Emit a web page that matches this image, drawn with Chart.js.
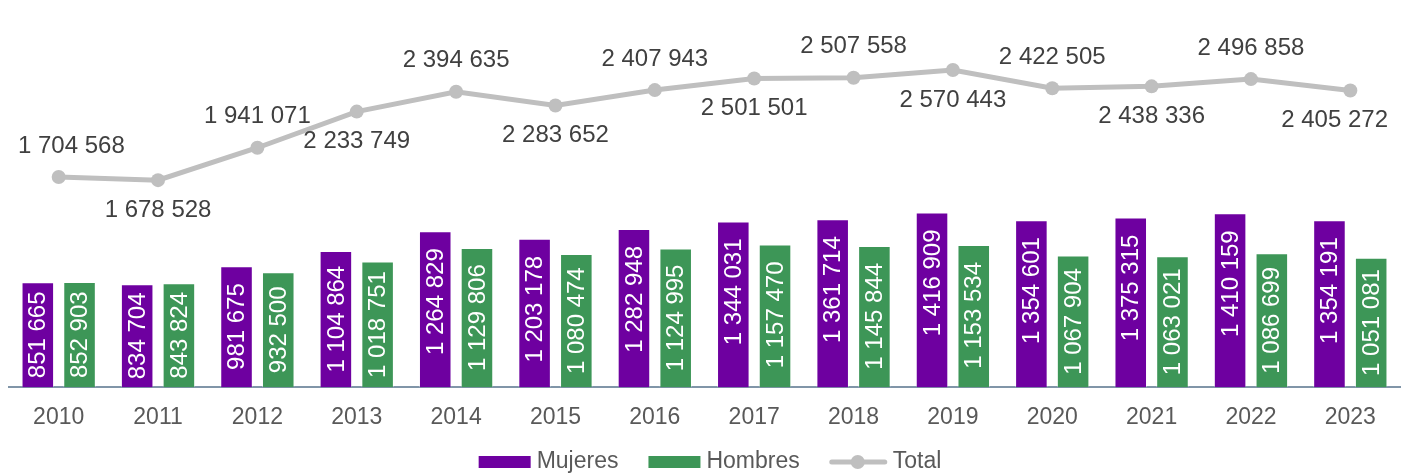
<!DOCTYPE html>
<html>
<head>
<meta charset="utf-8">
<script src="https://cdn.jsdelivr.net/npm/chart.js@4/dist/chart.umd.min.js"></script>
<style>
  html, body { margin: 0; padding: 0; background: #fff; }
  #wrap { width: 1408px; height: 474px; }
</style>
</head>
<body>
<div id="wrap"><canvas id="lineBarChart"></canvas></div>
<script>
var years = ["2010","2011","2012","2013","2014","2015","2016","2017","2018","2019","2020","2021","2022","2023"];
var mujeres = [851665, 834704, 981675, 1104864, 1264829, 1203178, 1282948, 1344031, 1361714, 1416909, 1354601, 1375315, 1410159, 1354191];
var hombres = [852903, 843824, 932500, 1018751, 1129806, 1080474, 1124995, 1157470, 1145844, 1153534, 1067904, 1063021, 1086699, 1051081];
var total = [1704568, 1678528, 1941071, 2233749, 2394635, 2283652, 2407943, 2501501, 2507558, 2570443, 2422505, 2438336, 2496858, 2405272];

var PURPLE = "#6E00A0", GREEN = "#3D9657", GRAY = "#BFBFBF";
var FONT = "'Liberation Sans', Arial, sans-serif";

function fmt(n) {
  return String(n).replace(/\B(?=(\d{3})+(?!\d))/g, " ");
}

// value labels for bars (rotated, inside) and for the line (alternating above / below)
var valueLabels = {
  id: 'valueLabels',
  afterDatasetsDraw: function(chart) {
    var ctx = chart.ctx;
    ctx.save();
    ctx.font = "24px " + FONT;
    ctx.textAlign = "center";
    ctx.textBaseline = "middle";
    [0, 1].forEach(function(di) {
      var meta = chart.getDatasetMeta(di);
      var data = chart.data.datasets[di].data;
      meta.data.forEach(function(el, i) {
        var p = el.getProps(['x', 'y', 'base'], true);
        var txt = fmt(data[i]);
        var len = ctx.measureText(txt).width;
        var cy = Math.min((p.y + p.base) / 2, p.y + 17 + len / 2);
        ctx.save();
        ctx.translate(p.x, cy);
        ctx.rotate(-Math.PI / 2);
        ctx.fillStyle = "#fff";
        ctx.fillText(txt, 0, 1);
        ctx.restore();
      });
    });
    var lmeta = chart.getDatasetMeta(2);
    ctx.fillStyle = "#404040";
    lmeta.data.forEach(function(el, i) {
      var txt = fmt(total[i]);
      var half = ctx.measureText(txt).width / 2;
      var x = Math.max(18 + half, Math.min(chart.width - 20 - half, el.x));
      var y = i % 2 === 0 ? el.y - 31 : el.y + 30;
      ctx.fillText(txt, x, y);
    });
    ctx.restore();
  },
  afterDraw: function(chart) {
    var ctx = chart.ctx;
    var items = [
      { text: "Mujeres", color: PURPLE, type: "box" },
      { text: "Hombres", color: GREEN, type: "box" },
      { text: "Total", color: GRAY, type: "line" }
    ];
    ctx.save();
    ctx.font = "23px " + FONT;
    ctx.textBaseline = "middle";
    var boxW = 52, gap = 6, between = 30, y = 462;
    var w = 0;
    items.forEach(function(it, k) {
      it.w = (it.type === "line" ? 57 : boxW) + gap + ctx.measureText(it.text).width;
      w += it.w + (k ? between : 0);
    });
    var x = 710 - w / 2;
    items.forEach(function(it) {
      if (it.type === "box") {
        ctx.fillStyle = it.color;
        ctx.fillRect(x, y - 6, boxW, 12);
        x += boxW + gap;
      } else {
        ctx.strokeStyle = it.color;
        ctx.lineWidth = 5;
        ctx.lineCap = "round";
        ctx.beginPath();
        ctx.moveTo(x + 2, y);
        ctx.lineTo(x + 55, y);
        ctx.stroke();
        ctx.fillStyle = it.color;
        ctx.beginPath();
        ctx.arc(x + 28, y, 7, 0, Math.PI * 2);
        ctx.fill();
        x += 57 + gap;
      }
      ctx.fillStyle = "#595959";
      ctx.fillText(it.text, x, y);
      x += ctx.measureText(it.text).width + between;
    });
    ctx.restore();
  }
};

new Chart(document.getElementById('lineBarChart').getContext('2d'), {
  type: 'bar',
  data: {
    labels: years,
    datasets: [
      {
        label: "Mujeres",
        backgroundColor: PURPLE,
        borderColor: "rgba(255,255,255,0.35)",
        borderWidth: 1,
        data: mujeres,
        categoryPercentage: 0.84,
        barPercentage: 0.78
      },
      {
        label: "Hombres",
        backgroundColor: GREEN,
        borderColor: "rgba(255,255,255,0.35)",
        borderWidth: 1,
        data: hombres,
        categoryPercentage: 0.84,
        barPercentage: 0.78
      },
      {
        type: 'line',
        label: "Total",
        data: total,
        borderColor: GRAY,
        backgroundColor: GRAY,
        borderWidth: 5,
        pointRadius: 7,
        pointHoverRadius: 7,
        pointBorderWidth: 0,
        tension: 0
      }
    ]
  },
  options: {
    responsive: true,
    maintainAspectRatio: false,
    animation: false,
    layout: { padding: { top: 17, left: 9, right: 8, bottom: 27 } },
    plugins: {
      legend: { display: false },
      tooltip: { enabled: false }
    },
    scales: {
      x: {
        grid: { display: false, drawTicks: false },
        border: { display: true, color: "#8095A8", width: 2 },
        ticks: { color: "#595959", font: { family: FONT, size: 23 }, padding: 16 }
      },
      y: {
        display: false,
        min: 0,
        max: 3000000
      }
    }
  },
  plugins: [valueLabels]
});
</script>
</body>
</html>
